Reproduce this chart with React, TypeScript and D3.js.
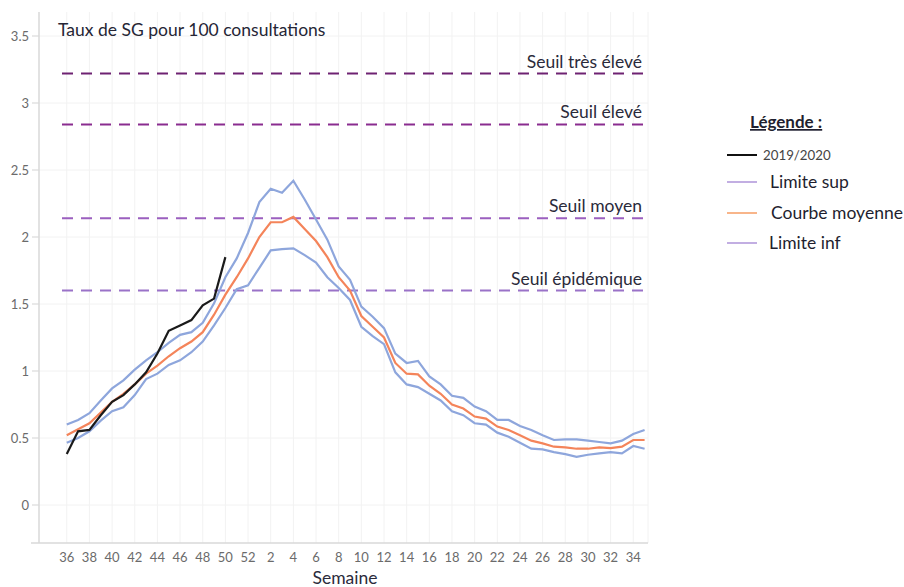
import React from "react";
import * as d3 from "d3";

const weeks = [36,37,38,39,40,41,42,43,44,45,46,47,48,49,50,51,52,1,2,3,4,5,6,7,8,9,10,11,12,13,14,15,16,17,18,19,20,21,22,23,24,25,26,27,28,29,30,31,32,33,34,35];
const season2019 = [0.38,0.55,0.56,0.67,0.77,0.82,0.90,0.99,1.13,1.30,1.34,1.38,1.49,1.54,1.85];
const courbeMoyenne = [0.52,0.565,0.61,0.69,0.77,0.83,0.90,0.98,1.04,1.11,1.17,1.22,1.29,1.42,1.57,1.70,1.84,2.00,2.11,2.11,2.15,2.06,1.97,1.85,1.70,1.60,1.41,1.33,1.25,1.06,0.98,0.975,0.89,0.83,0.75,0.72,0.66,0.645,0.585,0.56,0.52,0.48,0.46,0.435,0.43,0.42,0.42,0.43,0.425,0.435,0.485,0.485];
const limiteSup = [0.60,0.635,0.685,0.78,0.87,0.93,1.01,1.08,1.14,1.21,1.27,1.29,1.36,1.505,1.70,1.84,2.03,2.26,2.36,2.33,2.42,2.28,2.13,1.98,1.78,1.68,1.48,1.405,1.32,1.13,1.06,1.075,0.96,0.90,0.815,0.80,0.735,0.70,0.635,0.635,0.59,0.56,0.52,0.485,0.49,0.49,0.48,0.47,0.46,0.48,0.53,0.56];
const limiteInf = [0.465,0.50,0.55,0.63,0.70,0.73,0.82,0.94,0.98,1.045,1.08,1.14,1.22,1.34,1.47,1.61,1.64,1.77,1.90,1.91,1.915,1.865,1.81,1.70,1.62,1.53,1.33,1.26,1.20,0.99,0.90,0.88,0.83,0.78,0.70,0.67,0.61,0.60,0.54,0.51,0.465,0.42,0.415,0.395,0.38,0.36,0.375,0.385,0.395,0.385,0.44,0.42];
const yTicks = [0, 0.5, 1, 1.5, 2, 2.5, 3, 3.5];
const thresholdNames = ["Seuil très élevé", "Seuil élevé", "Seuil  moyen", "Seuil épidémique"];
const thresholdValues = [3.22, 2.84, 2.14, 1.60];
const thresholdColors = ["#6e2272", "#8a2c8f", "#9b5fbf", "#9a72c8"];
const legendNames = ["2019/2020", "Limite sup", "Courbe moyenne", "Limite inf"];

const FONT = "Lato, 'Open Sans', sans-serif";

export default function App() {
  const left = 39, right = 648, top = 12, bottom = 543;
  const x = d3.scaleLinear().domain([-2.45, 51.3]).range([left, right]);
  const y = d3.scaleLinear().domain([0, 3.5]).range([505, 36]);
  const line = d3.line<number>().x((_, i) => x(i)).y((d) => y(d));
  const labelIdx = weeks.map((w, i) => i).filter((i) => i % 2 === 0);

  return (
    <svg width={904} height={587} style={{ position: "absolute", left: 0, top: 0, background: "#fff" }} fontFamily={FONT}>
      {/* grid */}
      {yTicks.map((t) => (
        <g key={"y" + t}>
          <line x1={32} x2={right} y1={y(t)} y2={y(t)} stroke="#f2f2f2" strokeWidth={1} />
          <line x1={32} x2={left} y1={y(t)} y2={y(t)} stroke="#d9d9d9" strokeWidth={1} />
          <text x={29} y={y(t)} dy="0.35em" textAnchor="end" fontSize={13} fill="#6b6b6b">{t}</text>
        </g>
      ))}
      {labelIdx.map((i) => (
        <g key={"x" + i}>
          <line x1={x(i)} x2={x(i)} y1={top} y2={bottom} stroke="#f2f2f2" strokeWidth={1} />
          <text x={x(i)} y={562} textAnchor="middle" fontSize={13} fill="#6b6b6b">{weeks[i]}</text>
        </g>
      ))}
      <line x1={right} x2={right} y1={top} y2={bottom} stroke="#f2f2f2" />
      <line x1={left} x2={left} y1={top} y2={bottom} stroke="#d9d9d9" strokeWidth={1.5} />
      <line x1={left - 8} x2={right} y1={bottom} y2={bottom} stroke="#d9d9d9" strokeWidth={1.5} />
      <text x={345} y={584} textAnchor="middle" fontSize={17.5} fill="#2b2b3b">Semaine</text>

      {/* title */}
      <text x={58} y={36} fontSize={17.5} fill="#252535">Taux de SG pour 100 consultations</text>

      {/* thresholds */}
      {thresholdValues.map((v, i) => (
        <g key={"t" + i}>
          <line x1={62} x2={x(51)} y1={y(v)} y2={y(v)} stroke={thresholdColors[i]} strokeWidth={2} strokeDasharray="11,8" />
          <text x={642} y={y(v) - 6} textAnchor="end" fontSize={17.5} fill="#2a2a3a">{thresholdNames[i]}</text>
        </g>
      ))}

      {/* curves */}
      <path d={line(limiteSup) || ""} fill="none" stroke="#8ea6dc" strokeWidth={2.2} />
      <path d={line(limiteInf) || ""} fill="none" stroke="#8ea6dc" strokeWidth={2.2} />
      <path d={line(courbeMoyenne) || ""} fill="none" stroke="#f4845a" strokeWidth={2.2} />
      <path d={line(season2019) || ""} fill="none" stroke="#1a1a1a" strokeWidth={2.2} />

      {/* legend */}
      <text x={750} y={128} fontSize={17} fontWeight="bold" fill="#1f1f2f" textDecoration="underline">Légende :</text>
      <line x1={727} x2={757} y1={155} y2={155} stroke="#111" strokeWidth={2} />
      <text x={763} y={160} fontSize={13.3} fill="#444">{legendNames[0]}</text>
      <line x1={727} x2={757} y1={182} y2={182} stroke="#c2aee2" strokeWidth={2} />
      <text x={770} y={188} fontSize={17.5} fill="#1f1f2f">{legendNames[1]}</text>
      <line x1={727} x2={757} y1={213} y2={213} stroke="#f8b58a" strokeWidth={2} />
      <text x={771} y={219} fontSize={17.5} fill="#1f1f2f">{legendNames[2]}</text>
      <line x1={727} x2={757} y1={243} y2={243} stroke="#c2aee2" strokeWidth={2} />
      <text x={769} y={249} fontSize={17.5} fill="#1f1f2f">{legendNames[3]}</text>
    </svg>
  );
}
